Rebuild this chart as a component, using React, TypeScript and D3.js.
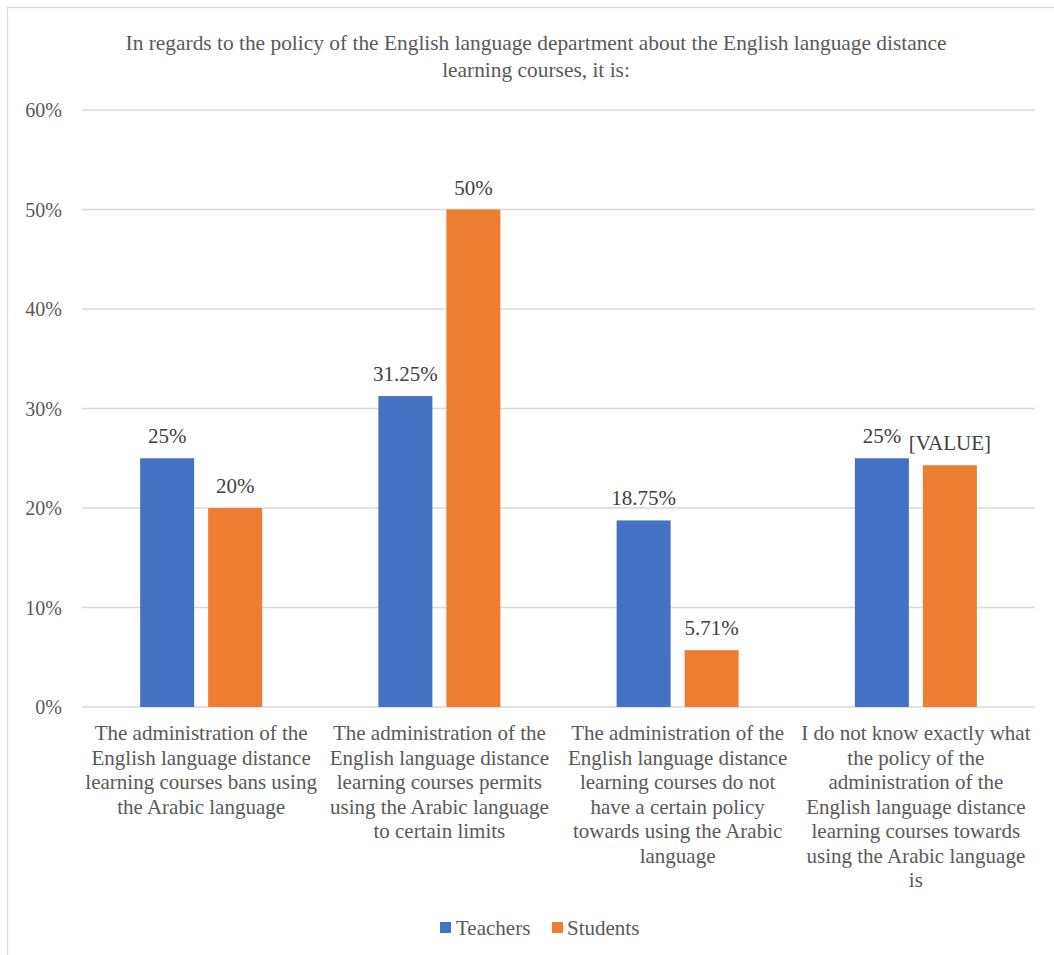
import React from "react";
import * as d3 from "d3";

const categories = [
  "The administration of the\nEnglish language distance\nlearning courses bans using\nthe Arabic language",
  "The administration of the\nEnglish language distance\nlearning courses permits\nusing the Arabic language\nto certain limits",
  "The administration of the\nEnglish language distance\nlearning courses do not\nhave a certain policy\ntowards using the Arabic\nlanguage",
  "I do not know exactly what\nthe policy of the\nadministration of the\nEnglish language distance\nlearning courses towards\nusing the Arabic language\nis",
];
const seriesNames = ["Teachers", "Students"];
const teachers = [0.25, 0.3125, 0.1875, 0.25];
const students = [0.2, 0.5, 0.0571, 0.243];
const teacherLabels = ["25%", "31.25%", "18.75%", "25%"];
const studentLabels = ["20%", "50%", "5.71%", "[VALUE]"];
const yTicks = [0, 0.1, 0.2, 0.3, 0.4, 0.5, 0.6];
const titleLines = [
  "In regards to the policy of the English language department about the English language distance",
  "learning courses, it is:",
];

const W = 1054;
const H = 955;
const FONT = "Liberation Serif";
const TXT = "#595959";
const colors = ["#4472C4", "#ED7D31"];

export default function App() {
  const left = 82, right = 1035, top = 110, bottom = 707;
  const x = d3.scaleBand<number>().domain(d3.range(categories.length)).range([left, right]);
  const y = d3.scaleLinear().domain([0, 0.6]).range([bottom, top]);
  const bw = 54, gap = 14;
  const series = [teachers, students];
  const labels = [teacherLabels, studentLabels];
  const bx = (i: number, s: number) => x(i)! + x.bandwidth() / 2 + (s === 0 ? -gap / 2 - bw : gap / 2);
  const fmt = d3.format(".0%");
  const legend = [{ x: 440, tx: 456 }, { x: 552, tx: 567 }];

  return (
    <svg width={W} height={H} style={{ display: "block", position: "absolute", left: 0, top: 0 }}>
      <rect x={7.5} y={7.5} width={1070} height={1000} fill="#fff" stroke="#d9d9d9" strokeWidth={1.3} />
      <text fontFamily={FONT} fontSize={21.4} fill={TXT} textAnchor="middle">
        {titleLines.map((l, i) => (
          <tspan key={i} x={536} y={50 + i * 26.5}>{l}</tspan>
        ))}
      </text>
      {yTicks.map((d) => (
        <g key={d}>
          <line x1={left} x2={right} y1={y(d)} y2={y(d)} stroke="#d9d9d9" strokeWidth={1.3} />
          <text x={62} y={y(d) + 7} textAnchor="end" fontFamily={FONT} fontSize={20} fill={TXT}>{fmt(d)}</text>
        </g>
      ))}
      {series.map((vals, s) => (
        <g key={s}>
          {vals.map((v, i) => (
            <rect key={i} x={bx(i, s)} width={bw} y={y(v)} height={y(0) - y(v)} fill={colors[s]} />
          ))}
          {vals.map((v, i) => (
            <text key={"t" + i} x={bx(i, s) + bw / 2} y={y(v) - 15} textAnchor="middle"
              fontFamily={FONT} fontSize={21} fill="#404040">{labels[s][i]}</text>
          ))}
        </g>
      ))}
      {categories.map((c, i) => (
        <text key={i} fontFamily={FONT} fontSize={21} fill={TXT} textAnchor="middle">
          {c.split("\n").map((l, j) => (
            <tspan key={j} x={x(i)! + x.bandwidth() / 2} y={740 + j * 24.5}>{l}</tspan>
          ))}
        </text>
      ))}
      {seriesNames.map((n, i) => (
        <g key={n}>
          <rect x={legend[i].x} y={922} width={11} height={11} fill={colors[i]} />
          <text x={legend[i].tx} y={935} fontFamily={FONT} fontSize={21} fill={TXT}>{n}</text>
        </g>
      ))}
    </svg>
  );
}
